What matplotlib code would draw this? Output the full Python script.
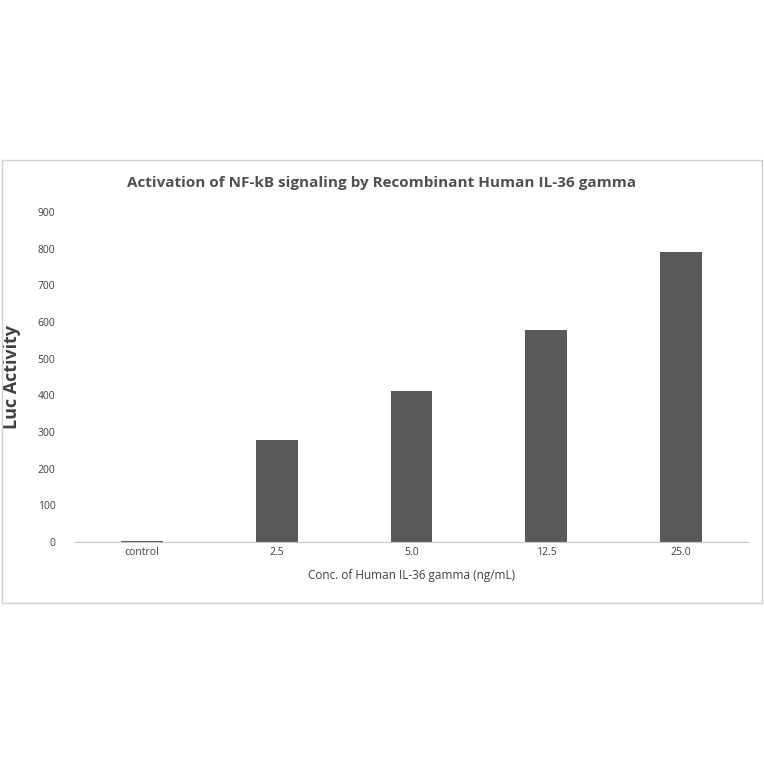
import matplotlib.pyplot as plt
from matplotlib.patches import Rectangle

categories = ["control", "2.5", "5.0", "12.5", "25.0"]
values = [3, 278, 412, 578, 791]
yticks = [0, 100, 200, 300, 400, 500, 600, 700, 800, 900]

plt.rcParams['font.family'] = ['Open Sans', 'DejaVu Sans']
fig = plt.figure(figsize=(7.64, 7.64), dpi=100)
fig.patches.append(Rectangle((2/764, 1-603/764), 760/764, 443/764, transform=fig.transFigure,
                             fill=False, edgecolor='#d0d0d0', linewidth=1))

ax = fig.add_axes([0.098, 0.2906, 0.881, 0.432])
ax.bar(range(len(categories)), values, width=0.31, color='#595959')
ax.set_xlim(-0.5, 4.5)
ax.set_ylim(0, 900)
ax.set_yticks(yticks)
ax.set_xticks(range(len(categories)))
ax.set_xticklabels(categories)
ax.tick_params(length=0, labelsize=7.5, colors='#404040')
ax.tick_params(axis='y', pad=14)
for s in ['top', 'right', 'left']:
    ax.spines[s].set_visible(False)
ax.spines['bottom'].set_color('#c8c8c8')
ax.set_xlabel("Conc. of Human IL-36 gamma (ng/mL)", fontsize=8.5, color='#404040', labelpad=8)
ax.set_ylabel("Luc Activity", fontsize=13, fontweight='bold', color='#404040', labelpad=12)
fig.text(0.5, 1-183/764, "Activation of NF-kB signaling by Recombinant Human IL-36 gamma",
         ha='center', va='center', fontsize=11, fontweight='bold', color='#505050')
fig.savefig("out.png", dpi=100)
